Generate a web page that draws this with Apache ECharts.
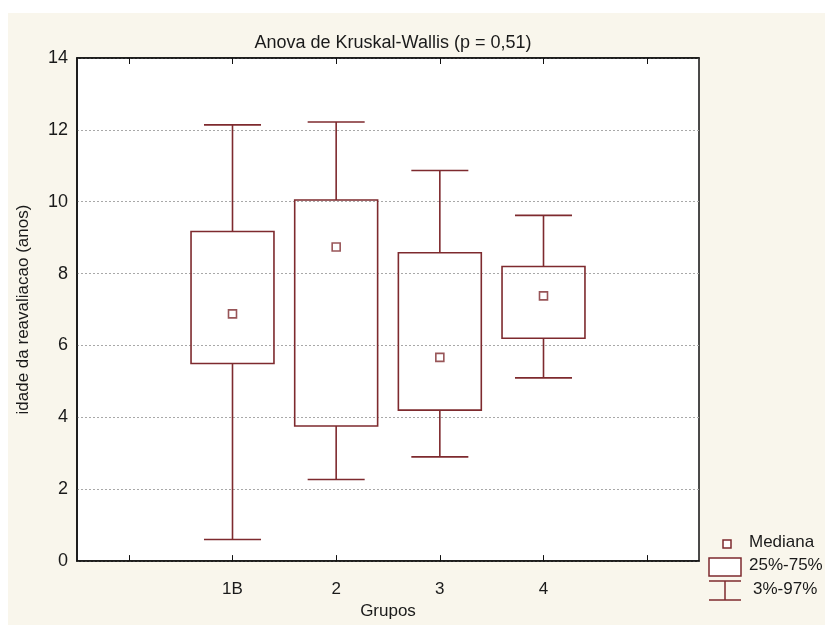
<!DOCTYPE html>
<html>
<head>
<meta charset="utf-8">
<script src="https://cdn.jsdelivr.net/npm/echarts@6/dist/echarts.min.js"></script>
<style>
  html, body { margin: 0; padding: 0; background: #fff; }
  #chart { width: 825px; height: 625px; }
</style>
</head>
<body>
<div id="chart"></div>
<script>
// grupos (as pontas ficam vazias, como no original)
const categories = ['', '1B', '2', '3', '4', '']
const groups = ['1B', '2', '3', '4']
// 3%-97% e 25%-75%
const p3 = [0.6, 2.27, 2.9, 5.1]
const q1 = [5.5, 3.76, 4.2, 6.2]
const medians = [6.88, 8.74, 5.67, 7.38]
const q3 = [9.17, 10.05, 8.58, 8.2]
const p97 = [12.14, 12.22, 10.87, 9.62]
const yTicks = [0, 2, 4, 6, 8, 10, 12, 14]

const dark = '#7e2a2e'
const font = 'Liberation Sans, Arial, sans-serif'

const boxData = groups.map((g, i) => [g, p3[i], q1[i], q3[i], p97[i]])
const medianData = groups.map((g, i) => [g, medians[i]])

// caixa + bigodes
const renderBox = (params, api) => {
  const band = api.size([1, 0])[0]
  const x = api.coord([api.value(0), 0])[0]
  const yLow = api.coord([api.value(0), api.value(1)])[1]
  const yQ1 = api.coord([api.value(0), api.value(2)])[1]
  const yQ3 = api.coord([api.value(0), api.value(3)])[1]
  const yHigh = api.coord([api.value(0), api.value(4)])[1]
  const bw = band * 0.8
  const cw = band * 0.55
  const line = { stroke: dark, lineWidth: 1.6 }
  return {
    type: 'group',
    children: [
      { type: 'line', shape: { x1: x, y1: yHigh, x2: x, y2: yQ3 }, style: line },
      { type: 'line', shape: { x1: x, y1: yQ1, x2: x, y2: yLow }, style: line },
      { type: 'line', shape: { x1: x - cw / 2, y1: yHigh, x2: x + cw / 2, y2: yHigh }, style: line },
      { type: 'line', shape: { x1: x - cw / 2, y1: yLow, x2: x + cw / 2, y2: yLow }, style: line },
      { type: 'rect', shape: { x: x - bw / 2, y: yQ3, width: bw, height: yQ1 - yQ3 },
        style: { fill: 'transparent', stroke: dark, lineWidth: 1.6 } }
    ]
  }
}

const chart = echarts.init(document.getElementById('chart'))

const tick = { show: true, alignWithLabel: true, inside: true, length: 6, interval: 0, lineStyle: { color: '#111', width: 1 } }

const option = {
  backgroundColor: '#fff',
  animation: false,
  title: {
    text: 'Anova de Kruskal-Wallis (p = 0,51)',
    left: 388,
    top: 29,
    textAlign: 'center',
    textStyle: { fontFamily: font, fontSize: 18, fontWeight: 'normal', color: '#1a1a1a' }
  },
  grid: {
    left: 77, right: 126, top: 58, bottom: 63,
    show: true,
    backgroundColor: '#fff',
    borderColor: '#111',
    borderWidth: 1.5
  },
  xAxis: [
    {
      type: 'category',
      data: categories,
      name: 'Grupos',
      nameLocation: 'middle',
      nameGap: 41,
      nameTextStyle: { fontFamily: font, fontSize: 17, color: '#1a1a1a' },
      axisLine: { show: true, lineStyle: { color: '#111', width: 1.5 } },
      axisTick: tick,
      axisLabel: { interval: 0, margin: 20, fontFamily: font, fontSize: 17, color: '#1a1a1a' },
      splitLine: { show: false },
      z: 10
    },
    {
      type: 'category',
      data: categories,
      position: 'top',
      axisLine: { show: true, lineStyle: { color: '#111', width: 1.5 } },
      axisTick: tick,
      axisLabel: { show: false },
      splitLine: { show: false },
      z: 10
    }
  ],
  yAxis: {
    type: 'value',
    min: yTicks[0],
    max: yTicks[yTicks.length - 1],
    interval: 2,
    name: 'idade da reavaliacao (anos)',
    nameLocation: 'middle',
    nameGap: 45,
    nameTextStyle: { fontFamily: font, fontSize: 17, color: '#1a1a1a' },
    axisLine: { show: true, lineStyle: { color: '#111', width: 1.5 } },
    axisTick: { show: false },
    axisLabel: { margin: 9, fontFamily: font, fontSize: 18, color: '#1a1a1a' },
    splitLine: { show: true, lineStyle: { color: '#a8a8a8', type: [2, 2], width: 1 } }
  },
  series: [
    {
      name: '25%-75%',
      type: 'custom',
      renderItem: renderBox,
      encode: { x: 0, y: [1, 2, 3, 4] },
      data: boxData,
      z: 3
    },
    {
      name: 'Mediana',
      type: 'scatter',
      symbol: 'rect',
      symbolSize: 8,
      itemStyle: { color: '#fff', borderColor: dark, borderWidth: 1.6 },
      data: medianData,
      z: 4
    }
  ],
  graphic: [
    { type: 'rect', z: -10, shape: { x: 8, y: 13, width: 817, height: 612 }, style: { fill: '#f9f6ec' } },
    // legenda
    { type: 'rect', shape: { x: 723, y: 540, width: 8, height: 8 }, style: { fill: '#fff', stroke: dark, lineWidth: 1.5 } },
    { type: 'text', left: 749, top: 534, style: { text: 'Mediana', fontFamily: font, fontSize: 17, fill: '#1a1a1a' } },
    { type: 'rect', shape: { x: 709, y: 558, width: 32, height: 18 }, style: { fill: '#fff', stroke: dark, lineWidth: 1.5 } },
    { type: 'text', left: 749, top: 557, style: { text: '25%-75%', fontFamily: font, fontSize: 17, fill: '#1a1a1a' } },
    { type: 'line', shape: { x1: 709, y1: 581, x2: 741, y2: 581 }, style: { stroke: dark, lineWidth: 1.5 } },
    { type: 'line', shape: { x1: 725, y1: 581, x2: 725, y2: 600 }, style: { stroke: dark, lineWidth: 1.5 } },
    { type: 'line', shape: { x1: 709, y1: 600, x2: 741, y2: 600 }, style: { stroke: dark, lineWidth: 1.5 } },
    { type: 'text', left: 753, top: 581, style: { text: '3%-97%', fontFamily: font, fontSize: 17, fill: '#1a1a1a' } }
  ]
}

chart.setOption(option)
</script>
</body>
</html>
